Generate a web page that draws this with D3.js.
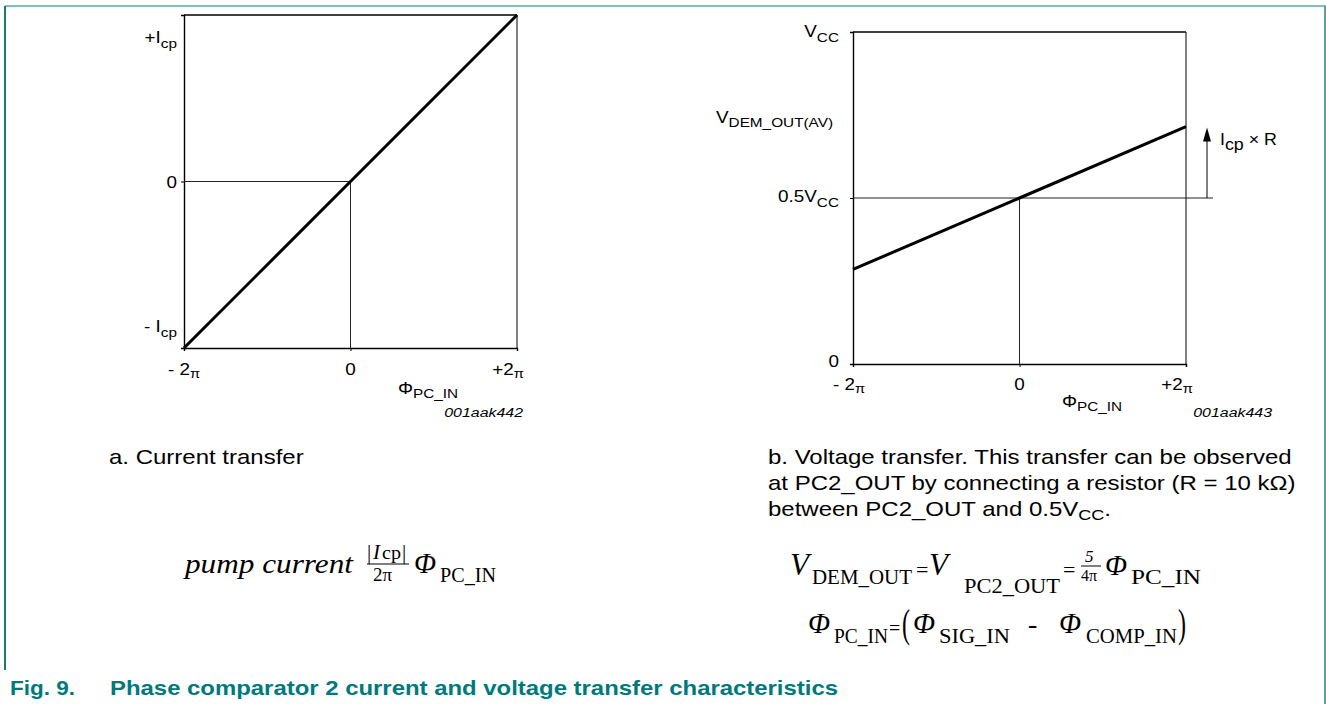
<!DOCTYPE html>
<html><head><meta charset="utf-8">
<script src="https://cdn.jsdelivr.net/npm/d3@7"></script>
<style>body{margin:0;background:#fff}svg{display:block}</style>
</head><body>
<script>
// ---------- data ----------
const phaseTicks = [-2, 0, 2];                 // units of π
const phaseTickLabels = [["- 2", "π"], ["0", ""], ["+2", "π"]];
const currentTicks = [-1, 0, 1];               // units of Icp
const currentTickLabels = [["- I", "cp"], ["0", ""], ["+I", "cp"]];
const currentPhase = [-2, 2];
const currentValues = [-1, 1];
const voltageTicks = [0, 0.5, 1];              // units of Vcc
const voltageTickLabels = [["0", ""], ["0.5V", "CC"], ["V", "CC"]];
const voltagePhase = [-2, 2];
const voltageValues = [0.285, 0.715];
const demLabel = ["V", "DEM_OUT(AV)"];
const idLabels = ["001aak442", "001aak443"];
const captionA = ["a. Current transfer"];
const captionB = ["b. Voltage transfer. This transfer can be observed",
                  "at PC2_OUT by connecting a resistor (R = 10 kΩ)",
                  "between PC2_OUT and 0.5V"];
const titleNum = "Fig. 9.";
const titleText = "Phase comparator 2 current and voltage transfer characteristics";

// ---------- setup ----------
const W = 1326, H = 704;
const SX = 1.18;   // horizontal stretch of the reference lettering
const svg = d3.select("body").append("svg").attr("width", W).attr("height", H);
const SANS = "'Liberation Sans', Arial, sans-serif";
const SERIF = "'Liberation Serif', 'DejaVu Serif', serif";

// frame
svg.append("line").attr("x1", 5).attr("x2", W).attr("y1", 6).attr("y2", 6).attr("stroke", "#80bebe").attr("stroke-width", 2);
svg.append("line").attr("x1", 5).attr("x2", 5).attr("y1", 6).attr("y2", 670).attr("stroke", "#1d7878").attr("stroke-width", 2);
svg.append("line").attr("x1", 1325).attr("x2", 1325).attr("y1", 6).attr("y2", H).attr("stroke", "#5aa2a2").attr("stroke-width", 2);

function rich(g, x, y, parts, o = {}) {
  const size = o.size || 15, sub = o.sub || 12, sdy = o.sdy == null ? 4 : o.sdy;
  const sx = o.sx || SX;
  const t = g.append("text").attr("transform", `translate(${x},${y}) scale(${sx},1)`)
    .attr("font-family", o.family || SANS).attr("font-size", size)
    .attr("text-anchor", o.anchor || "start").attr("fill", "#000");
  if (o.style) t.attr("font-style", o.style);
  let cur = 0;
  parts.forEach((p, i) => {
    if (!p) return;
    const isSub = i % 2 === 1;
    const target = isSub ? sdy : 0;
    const s = t.append("tspan").text(p).attr("dy", target - cur);
    if (isSub) s.attr("font-size", sub);
    cur = target;
  });
  return t;
}

function chart(cfg) {
  const g = svg.append("g");
  const x = d3.scaleLinear().domain([-2, 2]).range(cfg.xr);
  const y = d3.scaleLinear().domain(cfg.yd).range(cfg.yr);
  g.append("g").attr("transform", `translate(0,${cfg.yr[0]})`)
    .call(d3.axisBottom(x).tickValues(phaseTicks).tickSize(3).tickFormat(""))
    .call(a => a.select(".domain").attr("stroke", "#000").attr("stroke-width", 1.4))
    .call(a => a.selectAll(".tick line").attr("stroke", "#000"));
  g.append("g").attr("transform", `translate(${cfg.xr[0]},0)`)
    .call(d3.axisLeft(y).tickValues(cfg.yTicks).tickSize(3).tickFormat(""))
    .call(a => a.select(".domain").attr("stroke", "#000").attr("stroke-width", 1.4))
    .call(a => a.selectAll(".tick line").attr("stroke", "#000"));
  g.append("line").attr("x1", x(-2)).attr("x2", x(2)).attr("y1", y(cfg.yd[1])).attr("y2", y(cfg.yd[1])).attr("stroke", "#000").attr("stroke-width", 1.4);
  g.append("line").attr("x1", x(2)).attr("x2", x(2)).attr("y1", y(cfg.yd[1])).attr("y2", y(cfg.yd[0])).attr("stroke", "#000").attr("stroke-width", 1);
  phaseTicks.forEach((v, i) => {
    rich(g, x(v) + cfg.xLabOff[i], cfg.xLabY, phaseTickLabels[i], {anchor: "middle", size: 16, sub: 12.5, sdy: 3});
  });
  cfg.yTicks.forEach((v, i) => {
    rich(g, cfg.yLabX, y(v) + cfg.yLabOff[i], cfg.yLabels[i], {anchor: "end", size: 16, sub: 13, sdy: 5});
  });
  rich(g, cfg.phiX, cfg.phiY, ["Φ", "PC_IN"], {size: 16, sub: 13, sdy: 4});
  rich(g, cfg.idX, cfg.idY, [cfg.id], {anchor: "end", size: 13.5, style: "italic"});
  return {g, x, y};
}

// ---------- chart a ----------
const A = chart({
  xr: [184, 517], yd: [-1, 1], yr: [348, 15], yTicks: currentTicks, yLabels: currentTickLabels,
  xLabOff: [0, 0, -9], xLabY: 375, yLabX: 177, yLabOff: [-16, 6, 28],
  phiX: 398, phiY: 394, id: idLabels[0], idX: 523, idY: 417
});
A.g.append("path").datum([[0, -1], [0, 0], [-2, 0]])
  .attr("d", d3.line().x(d => A.x(d[0])).y(d => A.y(d[1])))
  .attr("fill", "none").attr("stroke", "#222").attr("stroke-width", 1);
A.g.append("path").datum(currentPhase.map((p, i) => [p, currentValues[i]]))
  .attr("d", d3.line().x(d => A.x(d[0])).y(d => A.y(d[1])))
  .attr("fill", "none").attr("stroke", "#000").attr("stroke-width", 3);

// ---------- chart b ----------
const B = chart({
  xr: [853, 1186], yd: [0, 1], yr: [364, 32], yTicks: voltageTicks, yLabels: voltageTickLabels,
  xLabOff: [-4, 0, -9], xLabY: 390, yLabX: 839, yLabOff: [3, 4, 5],
  phiX: 1062, phiY: 407, id: idLabels[1], idX: 1272, idY: 417
});
B.g.append("line").attr("x1", B.x(0)).attr("x2", B.x(0)).attr("y1", B.y(0.5)).attr("y2", B.y(0)).attr("stroke", "#222");
B.g.append("line").attr("x1", B.x(-2)).attr("x2", B.x(2) + 27).attr("y1", B.y(0.5)).attr("y2", B.y(0.5)).attr("stroke", "#222");
B.g.append("path").datum(voltagePhase.map((p, i) => [p, voltageValues[i]]))
  .attr("d", d3.line().x(d => B.x(d[0])).y(d => B.y(d[1])))
  .attr("fill", "none").attr("stroke", "#000").attr("stroke-width", 3);
rich(B.g, 833, B.y(voltageValues[1]) - 4, demLabel, {anchor: "end", size: 16, sub: 13, sdy: 4});
const ax = B.x(2) + 21, ay0 = B.y(0.5), ay1 = B.y(voltageValues[1]) + 1;
B.g.append("line").attr("x1", ax).attr("x2", ax).attr("y1", ay0).attr("y2", ay1 + 12).attr("stroke", "#000");
B.g.append("path").attr("d", `M${ax},${ay1} L${ax - 4},${ay1 + 14} L${ax + 4},${ay1 + 14} Z`).attr("fill", "#000");
rich(B.g, 1220, 145, ["I", "cp", " × R"], {size: 16.5, sub: 16.5, sdy: 5, sx: 1.08});

// ---------- captions ----------
const cap = svg.append("g");
rich(cap, 109, 464, [captionA[0]], {size: 20, sx: 1.2});
captionB.forEach((s, i) => {
  const parts = i === 2 ? [s, "CC", "."] : [s];
  rich(cap, 768, 464 + i * 26, parts, {size: 20, sub: 15, sdy: 4, sx: 1.2});
});

// ---------- formulas ----------
const F = svg.append("g").attr("font-family", SERIF).attr("fill", "#000");
function ft(x, y, s, size, style, len) {
  const t = F.append("text").attr("x", x).attr("y", y).attr("font-size", size).text(s);
  if (style) t.attr("font-style", style);
  if (len) t.attr("textLength", len).attr("lengthAdjust", "spacingAndGlyphs");
  return t;
}
function paren(x, y, s) {
  F.append("text").attr("transform", `translate(${x},${y}) scale(0.6,1)`).attr("font-size", 40).text(s);
}
// left formula
ft(185, 573, "pump current", 28, "italic", 168);
ft(367, 559, "|", 21, null);
ft(373, 559, "I", 21, "italic");
ft(382, 559, "cp", 18, null, 19);
ft(402, 559, "|", 21, null);
F.append("line").attr("x1", 367).attr("x2", 409).attr("y1", 564).attr("y2", 564).attr("stroke", "#000").attr("stroke-width", 1.2);
ft(373, 581, "2π", 19, null);
ft(414, 573, "Φ", 29, "italic");
ft(440, 582, "PC_IN", 20, null, 56);

// right formula line 1
ft(790, 575, "V", 31, "italic");
ft(812, 584, "DEM_OUT", 20, null, 100);
ft(916, 577, "=", 22, null);
ft(929, 575, "V", 31, "italic");
ft(964, 593, "PC2_OUT", 20, null, 96);
ft(1063, 577, "=", 22, null);
ft(1085, 562, "5", 17, "italic");
F.append("line").attr("x1", 1081).attr("x2", 1101).attr("y1", 566).attr("y2", 566).attr("stroke", "#000").attr("stroke-width", 1);
ft(1081, 581, "4π", 16, null);
ft(1105, 575, "Φ", 29, "italic");
ft(1131, 584, "PC_IN", 20, null, 70);
// right formula line 2
ft(808, 633, "Φ", 29, "italic");
ft(834, 643, "PC_IN", 20, null, 54);
ft(889, 635, "=", 20, null);
paren(902, 637, "(");
ft(913, 633, "Φ", 29, "italic");
ft(939, 643, "SIG_IN", 20, null, 71);
ft(1028, 633, "-", 28, null);
ft(1059, 633, "Φ", 29, "italic");
ft(1086, 643, "COMP_IN", 20, null, 91);
paren(1178, 637, ")");

// ---------- title ----------
const T = svg.append("g").attr("font-family", SANS).attr("font-weight", "bold").attr("font-size", 21).attr("fill", "#00797b");
T.append("text").attr("x", 10).attr("y", 695).attr("textLength", 65).attr("lengthAdjust", "spacingAndGlyphs").text(titleNum);
T.append("text").attr("x", 110).attr("y", 695).attr("textLength", 728).attr("lengthAdjust", "spacingAndGlyphs").text(titleText);
</script>
</body></html>
